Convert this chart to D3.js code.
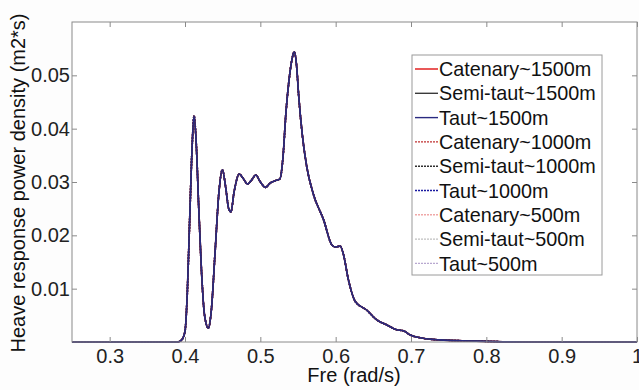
<!DOCTYPE html>
<html><head><meta charset="utf-8">
<script src="https://cdn.jsdelivr.net/npm/d3@7"></script>
<style>
html,body{margin:0;padding:0;background:#fdfdfd;}
svg{display:block;font-family:"Liberation Sans",Arial,sans-serif;}
</style></head>
<body><svg id="c" width="639" height="390"></svg>
<script>
// Frequency (rad/s)
const freq = [0.25,0.39,0.395,0.40,0.403,0.406,0.409,0.412,0.415,0.418,0.422,0.426,0.431,0.435,0.44,0.445,0.4496,0.454,0.458,0.461,0.465,0.472,0.478,0.483,0.488,0.494,0.50,0.507,0.513,0.519,0.526,0.53,0.534,0.538,0.542,0.545,0.548,0.551,0.556,0.5616,0.570,0.584,0.595,0.600,0.606,0.610,0.617,0.626,0.641,0.655,0.668,0.681,0.69,0.699,0.716,0.738,0.78,0.85,1.0];
// Heave response power density (m2*s) — all mooring cases overlap
const density = [0,0,0.0003,0.002,0.009,0.022,0.035,0.0424,0.037,0.026,0.013,0.005,0.0026,0.006,0.017,0.028,0.0323,0.029,0.025,0.0244,0.028,0.0315,0.0305,0.0296,0.0303,0.0313,0.0300,0.0290,0.0298,0.0302,0.0306,0.0345,0.043,0.049,0.053,0.0544,0.052,0.046,0.0385,0.0329,0.0279,0.0229,0.0182,0.0178,0.0180,0.0166,0.0116,0.0076,0.0060,0.0041,0.0032,0.0023,0.0021,0.0013,0.0007,0.0004,0.0002,0,0];
const seriesNames = ["Catenary~1500m","Semi-taut~1500m","Taut~1500m","Catenary~1000m","Semi-taut~1000m","Taut~1000m","Catenary~500m","Semi-taut~500m","Taut~500m"];
const seriesColors = ["#e01010","#3a3a3a","#2a2a80","#c03030","#303030","#1a1aa0","#f0a8a8","#c0c0c0","#b8a8d0"];
const seriesDash = ["","","","2,1","2,1","2,1","2,1","2,1","2,1"];
const xTicks = [0.3,0.4,0.5,0.6,0.7,0.8,0.9,1];
const yTicks = [0.01,0.02,0.03,0.04,0.05];

const svg = d3.select("#c");
const L=72,R=637,T=22,B=342;
const x = d3.scaleLinear().domain([0.25,1]).range([L,R]);
const y = d3.scaleLinear().domain([0,0.06]).range([B,T]);

svg.append("rect").attr("x",L).attr("y",T).attr("width",R-L).attr("height",B-T).attr("fill","#ffffff");

const line = d3.line().x((d,i)=>x(freq[i])).y(d=>y(d)).curve(d3.curveMonotoneX);
const order = [6,7,8,3,4,5,0,1,2];
order.forEach(k=>{
  svg.append("path").datum(density).attr("d",line).attr("fill","none")
    .attr("stroke",seriesColors[k]).attr("stroke-width",1.6)
    .attr("stroke-dasharray",seriesDash[k]||null);
});

const axisCol="#8a8a8a";
svg.append("rect").attr("x",L).attr("y",T).attr("width",R-L).attr("height",B-T)
  .attr("fill","none").attr("stroke",axisCol).attr("stroke-width",1);
// x ticks (inward, bottom and top)
const xa = d3.axisBottom(x).tickValues(xTicks).tickSize(-5).tickFormat(d=>d===1?"1":d3.format(".1f")(d));
const gx = svg.append("g").attr("transform",`translate(0,${B})`).call(xa);
gx.select(".domain").remove();
gx.selectAll("line").attr("stroke",axisCol);
gx.selectAll("text").attr("font-size",20).attr("fill","#222").attr("y",7).attr("dy","0.71em");
const gxt = svg.append("g").attr("transform",`translate(0,${T})`).call(d3.axisTop(x).tickValues(xTicks).tickSize(-5).tickFormat(""));
gxt.select(".domain").remove(); gxt.selectAll("line").attr("stroke",axisCol);
// y ticks
const ya = d3.axisLeft(y).tickValues(yTicks).tickSize(-5).tickFormat(d3.format(".2f"));
const gy = svg.append("g").attr("transform",`translate(${L},0)`).call(ya);
gy.select(".domain").remove();
gy.selectAll("line").attr("stroke",axisCol);
gy.selectAll("text").attr("font-size",20).attr("fill","#222").attr("x",-2);
const gyr = svg.append("g").attr("transform",`translate(${R},0)`).call(d3.axisRight(y).tickValues(yTicks).tickSize(-5).tickFormat(""));
gyr.select(".domain").remove(); gyr.selectAll("line").attr("stroke",axisCol);

// labels
svg.append("text").attr("x",354).attr("y",382).attr("text-anchor","middle")
  .attr("font-size",20).attr("fill","#111").text("Fre (rad/s)");
svg.append("text").attr("transform","translate(25,183) rotate(-90)").attr("text-anchor","middle")
  .attr("font-size",20).attr("fill","#111").text("Heave response power density (m2*s)");

// legend
const lg = svg.append("g");
lg.append("rect").attr("x",412).attr("y",55).attr("width",190).attr("height",220)
  .attr("fill","#ffffff").attr("stroke","#9a9a9a").attr("stroke-width",1);
seriesNames.forEach((n,i)=>{
  const cy = 69 + i*24.3;
  lg.append("line").attr("x1",415).attr("x2",438).attr("y1",cy).attr("y2",cy)
    .attr("stroke",seriesColors[i]).attr("stroke-width",1.4)
    .attr("stroke-dasharray",seriesDash[i]||null);
  lg.append("text").attr("x",439).attr("y",cy).attr("dy","0.36em")
    .attr("font-size",19.8).attr("fill","#111").text(n);
});
</script></body></html>
